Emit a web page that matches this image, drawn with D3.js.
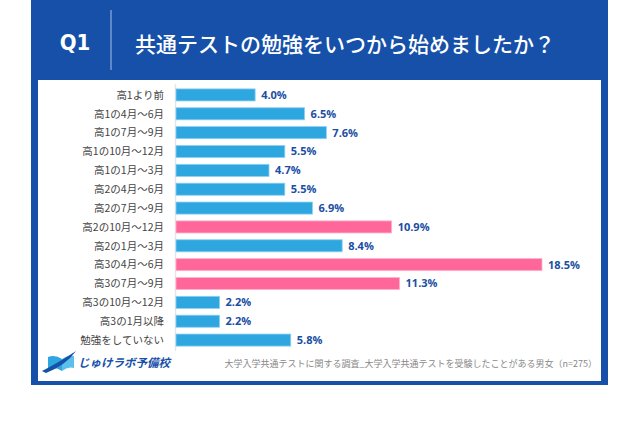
<!DOCTYPE html>
<html><head><meta charset="utf-8">
<script src="https://cdn.jsdelivr.net/npm/d3@7"></script>
<style>body{margin:0;background:#fff;}svg{display:block;font-family:"Noto Sans CJK JP","Noto Sans",sans-serif;}</style>
</head><body>
<svg id="c" width="640" height="426"></svg>
<script>
const categories = ["高1より前","高1の4月～6月","高1の7月～9月","高1の10月～12月","高1の1月～3月","高2の4月～6月","高2の7月～9月","高2の10月～12月","高2の1月～3月","高3の4月～6月","高3の7月～9月","高3の10月～12月","高3の1月以降","勉強をしていない"];
const values = [4.0,6.5,7.6,5.5,4.7,5.5,6.9,10.9,8.4,18.5,11.3,2.2,2.2,5.8];
const highlighted = ["高2の10月～12月","高3の4月～6月","高3の7月～9月"];
const title = "共通テストの勉強をいつから始めましたか？";
const note = "大学入学共通テストに関する調査_大学入学共通テストを受験したことがある男女（n=275）";

const svg = d3.select("#c");
const frame = "#1650a8";
svg.append("rect").attr("x",31).attr("y",0).attr("width",577).attr("height",385).attr("fill",frame);
svg.append("rect").attr("x",38).attr("y",80).attr("width",563).attr("height",301).attr("fill","#fff");
svg.append("text").attr("x",75).attr("y",50).attr("text-anchor","middle").attr("fill","#fff")
  .attr("font-size",22).attr("font-weight",700)
  .attr("font-family","'Liberation Sans Narrow','DejaVu Sans Condensed',Roboto,sans-serif").text("Q1");
svg.append("line").attr("x1",111).attr("x2",111).attr("y1",10).attr("y2",70).attr("stroke","#8fb0e0").attr("stroke-width",1.2);
svg.append("text").attr("x",135).attr("y",52).attr("fill","#fff").attr("font-size",21).attr("font-weight",500).text(title);

const x = d3.scaleLinear().domain([0,18.5]).range([176,542]);
const y = d3.scaleBand().domain(categories).range([85.5,349.5]).paddingInner(0.36).paddingOuter(0.18);

svg.append("line").attr("x1",175.5).attr("x2",175.5).attr("y1",84).attr("y2",351).attr("stroke","#e6e6e6").attr("stroke-width",1.5);

const g = svg.append("g");
categories.forEach((c,i)=>{
  const hi = highlighted.includes(c);
  g.append("rect").attr("x",x(0)).attr("y",y(c)).attr("width",x(values[i])-x(0)).attr("height",y.bandwidth())
    .attr("fill",hi?"#ff6699":"#2ea6e0").attr("stroke",hi?"#ffb3cc":"#8fd0f0").attr("stroke-width",0.8);
  g.append("text").attr("x",x(values[i])+6).attr("y",y(c)+y.bandwidth()/2).attr("dy","0.36em")
    .attr("fill","#1a4ea3").attr("font-size",11).attr("font-weight",700).attr("font-family","'Open Sans','Noto Sans',sans-serif")
    .text(values[i].toFixed(1)+"%");
  g.append("text").attr("x",164).attr("y",y(c)+y.bandwidth()/2).attr("dy","0.36em").attr("text-anchor","end")
    .attr("fill","#444").attr("font-size",10.5).text(c);
});

// logo
const lg = svg.append("g").attr("transform","translate(42,351)");
lg.append("path").attr("d","M6,18 L6,6 Q13,3 20,8 L20,20 Q13,15 6,18 Z").attr("fill","#2ea6e0");
lg.append("path").attr("d","M20,8 Q27,3 32,5 L32,17 Q26,15 20,20 Z").attr("fill","#5cc0ec");
lg.append("path").attr("d","M0,20 Q16,12 34,0 Q24,14 4,22 Z").attr("fill","#1650a8");
svg.append("text").attr("x",78).attr("y",367).attr("fill","#1650a8").attr("font-size",11.5).attr("font-weight",700)
  .attr("font-style","italic").text("じゅけラボ予備校");

svg.append("text").attr("x",597).attr("y",367).attr("text-anchor","end").attr("fill","#888").attr("font-size",9).text(note);
</script>
</body></html>
